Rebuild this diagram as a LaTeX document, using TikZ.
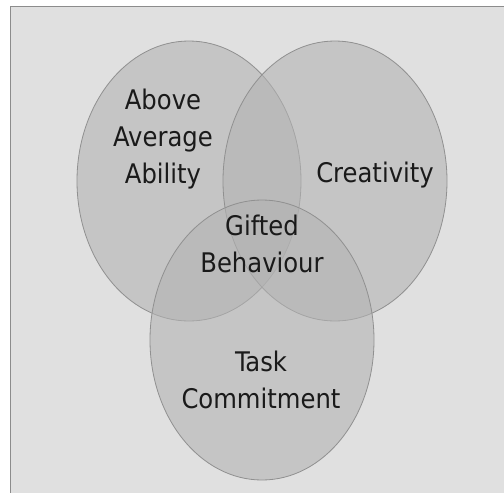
\documentclass[tikz,border=0pt]{standalone}
\usepackage{fontspec}
\setmainfont{DejaVu Sans Condensed}
\definecolor{bgc}{HTML}{E0E0E0}
\definecolor{framec}{HTML}{8C8C8C}
\definecolor{setfill}{HTML}{B3B3B3}
\definecolor{setline}{HTML}{909090}
\definecolor{txt}{HTML}{1A1A1A}
\tikzset{
  setshape/.style={fill=setfill, fill opacity=0.58, draw=setline, draw opacity=1, line width=0.8pt},
  lbl/.style={font=\fontsize{27}{37}\selectfont, text=txt, align=center, anchor=base, inner sep=0pt}
}
\begin{document}
\begin{tikzpicture}[x=1pt,y=-1pt]
\useasboundingbox (0,0) rectangle (504,493);
\fill[white] (0,0) rectangle (504,493);
\fill[bgc] (10,6) rectangle (506,495);
\draw[framec, line width=1pt] (10,495) -- (10,6) -- (506,6);
\coordinate (cA) at (189,181);
\coordinate (cC) at (335,181);
\coordinate (cT) at (262,340);
\path[setshape] (cA) ellipse [x radius=112pt, y radius=140pt];
\path[setshape] (cC) ellipse [x radius=112pt, y radius=140pt];
\path[setshape] (cT) ellipse [x radius=112pt, y radius=140pt];
\node[lbl] (ability) at (163,183) {Above\\Average\\Ability};
\node[lbl] (creativity) at (375,182) {Creativity};
\node[lbl] (gifted) at (262,272) {Gifted\\Behaviour};
\node[lbl] (task) at (261,408) {Task\\Commitment};
\end{tikzpicture}
\end{document}
